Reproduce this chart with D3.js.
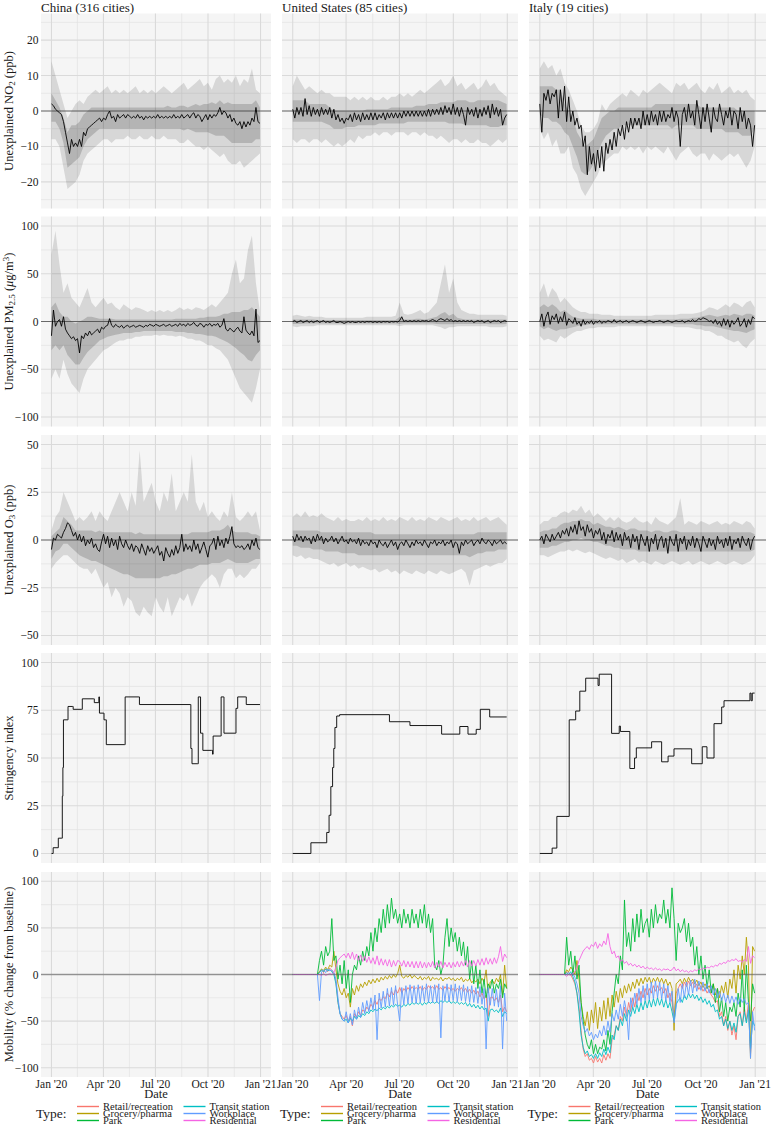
<!DOCTYPE html>
<html><head><meta charset="utf-8">
<script src="https://cdn.jsdelivr.net/npm/d3@7"></script>
<style>
body{margin:0;background:#fff}
text{font-family:"Liberation Serif","DejaVu Serif",serif;fill:#1a1a1a}
</style>
</head><body>
<script>
// ---------------- DATA ----------------
const columnTitles = ["China (316 cities)", "United States (85 cities)", "Italy (19 cities)"];
const xTickLabels = ["Jan '20", "Apr '20", "Jul '20", "Oct '20", "Jan '21"];
const mobilityTypes = ["Retail/recreation", "Grocery/pharma", "Park", "Transit station", "Workplace", "Residential"];
const mobilityColors = ["#F8766D", "#B79F00", "#00BA38", "#00BFC4", "#619CFF", "#F564E3"];

// NO2 — median (half-weekly) and ribbons (weekly)
const chinaNO2Med = [2,1.5,0.5,0,-0.5,-1,-3,-6,-9,-12,-8,-10,-9,-10,-8,-10,-6,-7,-5,-4.5,-4,-3.5,-3,-2.5,-2,-3,-2,-2.5,-1,0,-2,-1.5,-3,-1,-2,-1.5,-1,-2,-1,-1.5,-2,-1.5,-2,-1,-2,-1.5,-2.5,-1.5,-2,-1.5,-2,-1.5,-2,-1,-2,-1.5,-2,-1.5,-2,-1.5,-2,-1,-2,-1.5,-2,-1,-2,-1.5,-1,-2,-1,-0.5,-2,-1,-1.5,-3,-2,-1,-2.5,-1,-2,-1,-1.5,-0.5,1,-1,0,-0.5,-2,-1,-3,-2,-3.5,-4,-3,-5,-3,-4.5,-3,-4,-2,-3,1,-3,-3.5];
const chinaNO2OuterHi = [14,10,6,2,-2,0,2,3,2,4,5,6,5,6,7,5,6,5,6,5,6,7,5,6,5,6,5,6,7,6,5,6,7,8,6,7,8,9,7,8,6,9,10,8,9,8,10,7,9,8,12,6,5];
const chinaNO2OuterLo = [-8,-8,-10,-16,-22,-21,-20,-18,-14,-12,-11,-10,-9,-8,-8,-9,-8,-8,-8,-7,-8,-8,-7,-8,-8,-7,-8,-8,-7,-8,-8,-8,-9,-9,-8,-9,-10,-10,-11,-10,-11,-12,-13,-12,-14,-15,-15,-14,-16,-15,-14,-13,-12];
const chinaNO2InnerHi = [5,3,1,-2,-6,-4,-4,-3,-1,0,1,1,1,1,1,1,1,1,1,1,1,1,1,1,1,1,1,1,1,1.5,1,1,1.5,1.5,1,1.5,2,1.5,2,2,2.5,2,3,2,2.5,2,2,2,2,2,2,3,1];
const chinaNO2InnerLo = [-3,-3,-5,-9,-16,-15,-14,-13,-10,-8,-7,-6,-5,-5,-5,-5,-5,-5,-5,-5,-5,-5,-5,-5,-5,-5,-5,-5,-5,-5,-5,-5,-5,-5.5,-5,-5.5,-6,-6,-6,-6,-6.5,-7,-7,-7,-8,-9,-9,-9,-9,-9,-9,-8,-8];

const usNO2Med = [0.5,-2,1,-1,1,-1.5,3.5,-1,1.5,-1.5,1,-1,0.5,-1.5,1,-1,0.5,-1,1,-2,0.5,-2.5,-1,-3,-2,-3.5,-2,-2.5,-1,-3,-0.5,-2.5,-1,-3,-0.5,-2.5,-1,-2.5,-0.5,-2.5,-0.5,-2.5,-1,-2,-0.5,-2.5,-0.5,-2,-0.5,-2,-0.5,-2,-0.5,-2,0,-1.5,0,-1.5,0,-1.5,0,-1.5,0,-1.5,0,-1.5,0.5,-1.5,0.5,-1,0.5,-1,1,-1,1.5,-0.5,1,-1,2,-1,1,-1.5,1,-1,-4,1,-1,0.5,-1.5,1,-2,0.5,-1.5,1,-1,1.5,-2,2,-1,1,-1.5,0.5,-4,-2,-1];
const usNO2OuterHi = [7,10,8,6,7,6,5,6,5,5,4,4,4,4,3,4,3,4,3,4,3,3,4,3,4,4,5,4,5,4,5,6,5,6,7,8,9,7,8,10,7,8,6,7,8,6,7,9,7,8,6,5,4];
const usNO2OuterLo = [-8,-9,-8,-8,-9,-8,-8,-9,-8,-9,-10,-9,-10,-9,-8,-9,-7,-8,-7,-7,-6,-7,-6,-6,-7,-6,-6,-6,-7,-6,-6,-7,-6,-7,-7,-8,-7,-8,-9,-8,-8,-9,-8,-9,-9,-8,-9,-9,-10,-9,-8,-9,-8];
const usNO2InnerHi = [3,3,3,3,2,2,2,2,2,1,0,0,0,0,0,0,0,0,0.5,0.5,0.5,0.5,0.5,0.5,1,1,1,1,1,1,1.5,1.5,1.5,2,2,2,2.5,2.5,2.5,2.5,3,3,3,2.5,2.5,3,3,3,3,3,3,2.5,2];
const usNO2InnerLo = [-3,-3,-3,-3,-3,-3,-3,-3,-3.5,-4,-5,-5,-5,-4.5,-4.5,-4.5,-4,-4,-4,-4,-4,-3.5,-3.5,-3.5,-3.5,-3.5,-3.5,-3.5,-3,-3,-3,-3,-3,-3,-3,-3,-3,-3,-3.5,-3.5,-3.5,-3.5,-4,-4,-4,-4,-4,-4,-4.5,-4.5,-4.5,-4,-4];

const italyNO2Med = [2,-6,5,3,6,2,5,4,6,-2,6,0,7,-3,4,-3,0,-4,-2,-5,-4,-10,-7,-18,-10,-15,-12,-17,-11,-16,-10,-17,-9,-12,-8,-11,-6,-10,-5,-7,-4,-8,-3,-6,-2,-5,-2,-4,-2,-5,0,-4,-1,-4,0,-3,-1,-4,0,-3,0,-3,-1,-2,1,-3,0,-2,-10,-1,1,-3,2,-2,0,-4,3,-1,-5,1,-3,2,-2,-6,1,-2,-3,2,-1,-4,0,-2,1,-4,0,-1,-5,1,-3,0,-5,-2,-4,-10,-4];
const italyNO2OuterHi = [12,14,12,13,10,12,8,6,3,0,-4,-6,-6,-5,-3,2,0,2,3,4,5,4,6,5,4,6,5,6,7,8,7,6,5,8,7,8,6,7,8,6,5,7,6,8,5,6,7,5,6,5,6,4,3];
const italyNO2OuterLo = [-5,-8,-6,-10,-8,-12,-12,-10,-16,-18,-22,-24,-22,-20,-18,-15,-14,-13,-12,-12,-10,-11,-10,-11,-10,-12,-10,-11,-10,-11,-12,-10,-12,-14,-12,-11,-10,-12,-13,-12,-12,-14,-12,-13,-14,-13,-12,-13,-12,-14,-16,-14,-10];
const italyNO2InnerHi = [7,7,7,7,6,6,2,0,-2,-6,-8,-10,-9,-8,-5,-2,-1,0,0,1,1,1,1,1,1,1,1,1,2,2,2,2,2,2,2,2,2,2,2,1,1,1,1,1,1,1,1,1,0,0,0,0,0];
const italyNO2InnerLo = [-1,-2,-2,-3,-3,-4,-6,-7,-10,-13,-17,-18,-17,-15,-12,-9,-7,-6,-5,-5,-4,-4,-4,-4,-4,-4,-4,-4,-4,-4,-4,-4,-5,-4,-4,-4,-4,-4,-5,-5,-5,-5,-5,-5,-5,-6,-6,-6,-6,-7,-7,-7,-5];

// PM2.5
const chinaPMMed = [-15,12,-5,0,2,-5,5,-8,-12,-15,-18,-16,-20,-18,-33,-15,-18,-12,-15,-10,-14,-12,-10,-8,-12,-6,-8,-5,-4,3,-4,-6,-3,-5,-6,-4,-7,-5,-4,-6,-5,-4,-6,-5,-4,-5,-6,-4,-5,-3,-4,-5,-3,-4,-5,-4,-3,-5,-4,-3,-5,-4,-3,-5,-2,-4,-3,-5,-2,-4,-3,-1,-4,-5,-2,-3,-6,-3,-4,-2,-5,-3,-4,-2,-6,-4,3,-8,-10,-7,-9,-11,-8,-6,-10,-12,5,-9,-12,-14,-10,-15,13,-22,-20];
const chinaPMOuterHi = [70,95,60,30,40,25,20,15,25,35,20,15,20,25,18,20,15,12,18,15,12,15,14,12,10,12,10,12,10,12,10,12,15,12,14,12,15,14,12,15,18,15,20,25,30,50,65,40,45,75,90,40,10];
const chinaPMOuterLo = [-60,-50,-60,-40,-55,-65,-70,-75,-60,-50,-45,-40,-35,-30,-28,-25,-22,-20,-20,-18,-18,-16,-16,-15,-15,-15,-14,-15,-14,-15,-15,-16,-15,-16,-18,-18,-20,-20,-22,-25,-25,-28,-30,-35,-40,-50,-60,-70,-75,-80,-85,-70,-50];
const chinaPMInnerHi = [15,20,10,5,5,0,-2,0,2,5,5,4,3,3,3,3,2,2,2,2,2,2,2,2,2,2,2,2,2,2,2,3,3,3,3,3,3,4,4,5,5,5,6,8,8,10,10,10,12,12,15,10,5];
const chinaPMInnerLo = [-30,-25,-30,-25,-35,-40,-45,-45,-38,-32,-28,-24,-20,-18,-16,-15,-14,-13,-12,-12,-12,-11,-11,-10,-10,-10,-10,-10,-10,-10,-10,-11,-11,-11,-12,-12,-13,-13,-14,-15,-15,-16,-18,-20,-22,-25,-28,-32,-35,-40,-42,-35,-30];

const usPMMed = [0,1,-1,0,1,-1,0,1,-1,0.5,-1,0,1,-1,0,1,-1,0,-1,0,1,-1,-1,0,-1,-2,-1,0,-1,0,-1,-1,0,-1,0,-1,0,-0.5,0,-1,0,-1,0,-1,0,-0.5,0,-1,0,-0.5,0,-0.5,1,5,0,1,0,1,0,1,0,1,0,1,0.5,1,0,1,2,1,0,2,3,2,1,3,1,2,0,1,0,1,0,1,0,1,0,1,-1,0,1,0,1,-1,0,1,-1,0,1,0,1,-1,0,1,0];
const usPMOuterHi = [6,7,6,5,6,5,5,5,4,4,4,4,4,4,4,4,4,4,5,5,5,5,5,5,5,6,20,8,7,8,10,12,8,10,15,20,40,60,30,45,20,12,10,8,8,7,7,7,7,7,7,7,6];
const usPMOuterLo = [-5,-6,-5,-5,-5,-5,-4,-4,-4,-4,-4,-4,-4,-4,-4,-4,-4,-4,-4,-4,-4,-4,-4,-4,-4,-4,-5,-4,-4,-4,-4,-4,-4,-4,-4,-5,-6,-8,-6,-6,-5,-5,-5,-5,-5,-5,-5,-5,-6,-6,-6,-6,-5];
const usPMInnerHi = [2,2,2,2,2,2,1.5,1.5,1.5,1.5,1.5,1.5,1.5,1.5,1.5,1.5,1.5,1.5,1.5,1.5,1.5,1.5,1.5,1.5,1.5,1.5,5,2,2,2,3,3,2,3,4,5,8,10,6,8,4,3,2,2,2,2,2,2,2,2,2,2,2];
const usPMInnerLo = [-2.5,-2.5,-2.5,-2,-2,-2,-2,-2,-2,-2,-2,-2,-2,-2,-2,-2,-2,-2,-2,-2,-2,-2,-2,-2,-2,-2,-2.5,-2,-2,-2,-2,-2,-2,-2,-2,-2.5,-3,-3,-3,-3,-2.5,-2.5,-2.5,-2.5,-2.5,-2.5,-2.5,-2.5,-3,-3,-3,-3,-2.5];

const italyPMMed = [0,8,-5,5,10,-3,6,2,8,-2,5,0,10,-4,3,1,-2,4,-3,0,-5,2,-3,0,-2,1,-3,0,-1,1,-2,0,-1,1,0,-1,2,-1,0,1,-1,0,1,-1,0,1,0,-1,0,1,0,-1,0,1,0,-1,0,0,1,0,-1,0,1,0,-1,0,1,0,0,1,-1,0,1,0,2,0,1,3,2,4,3,2,0,1,-2,2,-3,0,-5,3,-4,2,-6,1,-3,0,4,-5,-2,3,-6,2,-3,5,3];
const italyPMOuterHi = [30,40,25,35,30,20,25,20,15,12,10,10,8,8,8,7,7,7,6,6,6,6,6,6,6,6,6,6,7,7,7,7,7,7,8,8,8,8,9,10,12,15,14,12,15,18,15,20,18,15,20,22,15];
const italyPMOuterLo = [-15,-20,-18,-20,-22,-15,-18,-15,-12,-10,-10,-8,-7,-7,-6,-6,-6,-6,-6,-5,-5,-5,-5,-5,-5,-5,-5,-5,-5,-5,-5,-5,-5,-6,-6,-6,-6,-7,-8,-8,-10,-10,-12,-15,-15,-18,-20,-22,-20,-25,-28,-22,-18];
const italyPMInnerHi = [15,18,15,18,15,10,12,8,5,4,3,3,3,3,2,2,2,2,2,2,2,2,2,2,2,2,2,2,2,2,2,2,2,2,3,3,3,4,4,5,6,7,6,5,6,7,6,8,7,6,8,8,6];
const italyPMInnerLo = [-5,-8,-6,-8,-10,-8,-8,-7,-6,-5,-4,-4,-3,-3,-3,-3,-3,-3,-3,-3,-3,-3,-3,-3,-3,-3,-3,-3,-3,-3,-3,-3,-3,-3,-3,-3,-3,-3,-4,-4,-5,-5,-5,-6,-7,-8,-9,-10,-10,-11,-12,-10,-8];

// O3
const chinaO3Med = [-5,1,0,3,2,1,4,6,9,8,5,2,4,0,3,-1,2,-3,0,-2,1,-4,-2,-5,-6,-1,3,-2,2,-4,1,-3,0,-5,2,-2,-4,0,-3,-5,-2,-6,-3,-4,-7,-2,-5,-8,-3,-6,-4,-7,-5,-3,-8,-6,-11,-4,-7,-9,-5,-8,-3,-7,-4,3,-6,-2,-5,-3,-6,0,-5,-2,-7,-4,-1,-5,-9,-3,-2,1,-5,2,-3,0,-4,1,-2,2,7,-2,-4,-3,-4,-3,-5,-4,-2,-5,0,-3,1,-4,-5];
const chinaO3OuterHi = [5,12,15,25,20,15,10,12,10,12,15,10,15,12,10,15,20,25,20,15,25,18,47,20,25,30,20,15,25,20,35,15,20,25,20,45,20,15,20,12,15,12,10,15,12,25,12,10,12,15,12,15,5];
const chinaO3OuterLo = [-15,-12,-10,-8,-8,-10,-12,-14,-15,-15,-18,-15,-20,-25,-22,-30,-25,-28,-35,-30,-32,-38,-40,-35,-38,-40,-30,-35,-38,-30,-40,-35,-30,-32,-28,-35,-30,-25,-22,-20,-18,-20,-25,-18,-15,-15,-20,-18,-20,-18,-15,-15,-12];
const chinaO3InnerHi = [2,4,6,12,10,8,5,5,5,5,5,4,5,4,4,4,4,4,4,4,4,3,4,3,3,3,3,3,3,3,3,3,3,3,3,4,4,4,4,4,5,5,5,6,8,5,4,4,4,4,3,3,2];
const chinaO3InnerLo = [-10,-6,-5,-2,-2,-4,-6,-8,-9,-10,-11,-11,-12,-13,-14,-15,-16,-17,-18,-18,-19,-20,-20,-20,-20,-20,-20,-20,-19,-19,-18,-18,-17,-16,-15,-15,-14,-13,-13,-13,-12,-12,-12,-11,-10,-11,-12,-12,-12,-12,-11,-10,-10];

const usO3Med = [2,-1,3,0,2,-1,2,0,1,-2,2,-1,3,0,2,-2,1,-1,0,2,-1,1,-2,0,2,-1,0,-2,1,-1,0,-2,1,-3,0,-2,-1,-3,0,-2,-1,-4,0,-2,-3,-1,-4,-2,0,-3,-1,-5,-2,-1,-3,0,-2,-4,-1,-3,0,-2,-1,-3,0,-2,-4,-1,-2,0,-3,-1,-2,0,-3,-1,-2,0,-4,-1,-2,-7,-1,-3,0,-2,-1,0,-3,-1,0,-2,1,-1,-2,0,-1,-3,0,-2,-1,0,-2,-1,-2];
const usO3OuterHi = [12,14,12,15,12,13,12,14,12,11,10,12,10,11,10,10,11,10,12,10,11,10,12,10,11,10,12,11,10,12,10,11,10,12,11,10,12,11,10,11,12,10,11,10,12,10,11,12,10,11,12,10,8];
const usO3OuterLo = [-8,-9,-8,-10,-9,-10,-10,-11,-12,-13,-12,-14,-13,-12,-14,-13,-15,-14,-15,-16,-15,-17,-16,-15,-17,-16,-18,-16,-17,-18,-16,-17,-18,-16,-17,-18,-16,-17,-18,-17,-16,-15,-17,-24,-16,-15,-14,-13,-14,-13,-12,-12,-10];
const usO3InnerHi = [5,5,5,5,5,5,5,4,4,4,4,4,4,4,4,4,4,4,4,4,3,3,3,3,3,3,3,3,3,3,3,3,3,3,3,3,3,3,3,3,3,3,3,3,3,4,4,4,4,4,4,4,4];
const usO3InnerLo = [-3,-3,-4,-4,-4,-5,-5,-5,-6,-6,-6,-6,-7,-7,-7,-7,-8,-8,-8,-8,-8,-8,-8,-8,-8,-8,-8,-8,-8,-8,-8,-8,-8,-8,-8,-8,-8,-8,-8,-8,-8,-8,-8,-9,-8,-7,-7,-6,-6,-6,-5,-5,-5];

const italyO3Med = [0,2,-2,3,1,-1,3,0,2,4,1,5,3,6,2,7,4,8,3,10,5,7,2,8,4,6,1,5,3,6,0,4,-2,3,1,5,-1,4,0,3,-3,4,0,2,-4,3,-1,2,-5,3,0,-3,2,-6,1,-2,3,-5,0,2,-4,1,-7,2,-1,-3,3,-6,1,-2,2,-5,0,-3,2,-4,1,-2,-6,2,-1,-4,1,-3,0,-5,2,-2,0,-4,1,-3,2,-5,0,-2,1,-4,2,-1,-3,1,-5,0,2];
const italyO3OuterHi = [8,10,10,12,12,14,15,14,16,15,18,14,16,12,14,12,10,12,10,12,10,9,10,12,10,9,10,8,12,10,9,8,10,12,22,8,10,9,8,10,9,8,9,10,8,9,8,10,9,8,10,9,6];
const italyO3OuterLo = [-8,-8,-9,-8,-7,-6,-6,-5,-6,-5,-6,-7,-6,-7,-8,-9,-10,-9,-10,-11,-10,-12,-11,-10,-12,-11,-12,-13,-11,-12,-13,-12,-11,-12,-13,-12,-11,-13,-12,-11,-12,-13,-12,-11,-12,-13,-12,-11,-12,-13,-12,-11,-8];
const italyO3InnerHi = [4,5,5,6,6,8,9,9,10,10,11,10,10,8,9,8,7,7,6,7,6,5,6,6,5,5,5,4,5,5,4,4,5,5,4,4,4,4,4,4,4,4,4,4,4,4,4,4,4,4,4,4,3];
const italyO3InnerLo = [-4,-4,-4,-3,-3,-2,-1,-1,0,0,1,0,0,-1,-1,-2,-3,-3,-4,-4,-5,-5,-5,-5,-6,-6,-6,-6,-6,-6,-6,-6,-6,-6,-6,-6,-6,-6,-6,-6,-6,-6,-6,-6,-6,-6,-6,-6,-6,-6,-6,-6,-5];

// Stringency index (change points: day of 2020, value)
const chinaStrDays = [0,3,12,18,19,20,21,28,29,37,38,53,54,74,75,82,83,84,91,92,95,96,128,129,153,154,243,244,246,256,257,260,261,264,265,280,282,283,296,297,301,302,322,323,325,326,340,341,365];
const chinaStrVals = [0,3,8,8,30,45,70,70,77,77,75.5,75.5,81,81,79,79,82,73.5,73.5,70,70,57,57,82,82,78,78,55,47,47,82,82,63,63,54,54,52,61.5,61.5,82,82,63,63,76,76,82,82,78,78];
const usStrDays = [0,31,58,62,65,68,70,72,75,80,165,200,254,285,299,313,320,336,365];
const usStrVals = [0,5.6,11,20,35,45,55,66,72,72.7,69,67,62.5,66.5,62.5,65,75.5,71.5,71.5];
const italyStrDays = [0,21,29,50,61,68,78,99,101,122,135,137,153,161,164,190,207,218,228,258,276,284,296,309,313,357,359,361,365];
const italyStrVals = [0,2.8,19.4,70,74.6,85,91.8,88,93.9,62.9,66.7,63.9,44.5,50,55.3,58.5,48,51,54.8,47,55.9,50,68,76.7,80,84,80,84,84];

// Mobility (% change from baseline), half-weekly from Jan 1
const usRetail = [0,0,0,0,0,0,0,0,0,0,0,0,0,3,5,2,6,3,7,4,2,-8,-30,-42,-45,-48,-44,-50,-45,-55,-42,-46,-40,-44,-38,-40,-35,-38,-32,-35,-28,-32,-26,-28,-24,-26,-20,-24,-18,-22,-16,-20,-14,-20,-15,-18,-14,-17,-13,-16,-14,-16,-13,-17,-14,-16,-12,-15,-13,-16,-12,-16,-14,-17,-13,-16,-14,-17,-15,-18,-15,-17,-14,-18,-15,-19,-16,-20,-17,-21,-18,-24,-20,-26,-22,-45,-25,-24,-28,-25,-30,-22,-40,-35,-40];
const usGrocery = [0,0,0,0,0,0,0,0,0,0,0,0,0,3,6,4,8,5,10,8,25,5,-10,-18,-22,-15,-25,-20,-35,-15,-22,-12,-18,-10,-14,-8,-12,-6,-10,-5,-9,-4,-8,-3,-6,-2,-5,-1,-4,0,-3,1,10,-2,-4,-1,-3,0,-4,-1,-3,-5,-2,-6,-3,-5,-2,-7,-3,-5,-4,-6,-3,-7,-4,-5,-3,-6,-4,-7,-4,-6,-3,-8,-5,-7,-4,-9,-6,-8,-5,-10,-4,-8,5,-20,-8,-6,-10,-4,-8,0,-22,10,-15];
const usPark = [0,0,0,0,0,0,0,0,0,0,0,0,0,15,25,10,30,20,25,60,15,20,-5,10,-10,15,-15,5,-30,0,10,5,20,10,25,15,30,20,45,25,50,35,60,45,70,50,75,55,82,60,70,55,65,50,70,55,65,50,70,55,65,50,70,55,75,50,65,45,60,10,5,15,0,10,40,60,30,50,35,45,25,40,20,35,10,30,-5,15,-10,10,-15,5,-20,-5,-25,-10,-15,-5,-20,-10,-15,-5,-25,-10,-15];
const usTransit = [0,0,0,0,0,0,0,0,0,0,0,0,0,2,5,3,6,4,5,3,0,-10,-30,-42,-48,-50,-48,-52,-47,-50,-45,-48,-44,-46,-42,-44,-40,-42,-38,-40,-37,-39,-36,-38,-35,-37,-34,-36,-33,-35,-32,-34,-33,-35,-32,-34,-31,-33,-30,-32,-30,-32,-30,-33,-30,-32,-29,-31,-29,-31,-29,-31,-28,-30,-28,-30,-28,-31,-29,-31,-29,-32,-30,-32,-30,-34,-31,-35,-32,-36,-33,-37,-34,-38,-36,-50,-38,-37,-40,-38,-41,-36,-45,-40,-42];
const usWorkplace = [0,0,0,0,0,0,0,0,0,0,0,0,0,-28,3,5,2,6,4,5,2,-5,-25,-42,-48,-50,-40,-52,-42,-54,-38,-48,-35,-46,-30,-42,-28,-40,-25,-38,-22,-70,-20,-36,-18,-35,-15,-34,-14,-33,-12,-33,-50,-14,-32,-12,-31,-11,-30,-12,-31,-11,-30,-12,-29,-10,-30,-12,-30,-11,-30,-10,-68,-12,-28,-10,-29,-11,-28,-10,-29,-12,-28,-11,-29,-13,-30,-12,-30,-14,-31,-13,-32,-15,-80,-14,-33,-15,-34,-16,-35,-12,-80,-20,-50];
const usResidential = [0,0,0,0,0,0,0,0,0,0,0,0,0,0,-1,1,-1,0,1,0,2,8,15,18,20,22,18,23,17,24,16,22,15,21,14,20,13,19,12,18,11,20,10,17,10,16,9,16,8,15,9,15,14,9,15,8,14,8,14,7,14,7,14,7,13,7,13,8,14,7,13,8,14,7,13,8,13,7,13,8,14,8,14,9,15,8,15,9,15,9,16,10,17,10,18,11,17,11,18,12,19,30,14,22,18];

const italyRetail = [0,0,0,0,0,0,0,0,0,0,0,0,0,3,2,0,-5,-10,-20,-35,-60,-80,-88,-85,-92,-90,-95,-88,-94,-90,-95,-86,-92,-85,-90,-70,-65,-55,-60,-45,-50,-35,-45,-30,-40,-25,-35,-20,-28,-18,-25,-15,-22,-15,-20,-12,-18,-12,-17,-14,-20,-15,-25,-20,-30,-45,-20,-15,-10,-15,-8,-13,-7,-12,-8,-14,-10,-16,-12,-18,-14,-20,-16,-22,-25,-30,-28,-45,-40,-55,-45,-60,-50,-65,-55,-70,-45,-40,-55,-35,-50,-30,-85,-40,-35];
const italyGrocery = [0,0,0,0,0,0,0,0,0,0,0,0,0,5,3,8,5,0,15,-5,-30,-45,-55,-40,-60,-38,-52,-30,-58,-35,-50,-28,-48,-25,-45,-22,-35,-18,-30,-15,-25,-12,-20,-10,-18,-8,-15,-5,-12,-4,-10,-3,-8,-3,-10,-4,-8,-3,-9,-4,-10,-5,-12,-8,-15,-60,-10,-8,-5,-10,-4,-9,-3,-8,-5,-10,-6,-12,-8,-14,-10,-15,-12,-18,-10,-22,-15,-25,-12,-20,-8,-25,-5,-15,5,-20,10,-5,20,0,40,10,-90,30,25];
const italyPark = [0,0,0,0,0,0,0,0,0,0,0,0,0,40,10,25,0,20,-5,10,-30,-50,-65,-75,-80,-70,-85,-75,-85,-78,-80,-70,-82,-60,-75,-40,-20,0,-10,20,5,80,30,45,25,60,35,65,40,70,45,55,60,40,70,50,75,55,65,60,80,55,70,50,93,60,15,55,45,50,60,35,55,30,40,10,30,0,20,-5,10,-15,5,-20,-10,-30,-15,-40,-25,-45,-30,-50,-35,-40,-30,-45,-20,-35,5,-40,10,-30,-50,-10,-20];
const italyTransit = [0,0,0,0,0,0,0,0,0,0,0,0,0,2,0,3,-2,-8,-20,-40,-65,-78,-85,-82,-88,-86,-90,-85,-90,-84,-88,-80,-86,-78,-84,-65,-70,-55,-60,-48,-55,-42,-50,-38,-45,-35,-42,-32,-40,-30,-38,-28,-36,-27,-35,-26,-34,-25,-33,-26,-35,-27,-36,-30,-40,-50,-32,-28,-25,-30,-22,-27,-20,-25,-21,-26,-22,-28,-24,-30,-26,-32,-28,-35,-32,-40,-38,-48,-45,-55,-48,-58,-50,-60,-52,-62,-45,-42,-55,-40,-52,-38,-80,-50,-55];
const italyWorkplace = [0,0,0,0,0,0,0,0,0,0,0,0,0,0,2,0,1,-3,-10,-20,-45,-55,-62,-58,-66,-62,-70,-64,-68,-60,-66,-55,-65,-50,-62,-42,-50,-38,-48,-32,-45,-28,-40,-70,-25,-35,-20,-32,-15,-30,-12,-28,-10,-27,-8,-26,-7,-25,-8,-26,-10,-28,-12,-30,-18,-52,-35,-15,-30,-10,-25,-8,-22,-6,-20,-5,-18,-7,-17,-8,-18,-10,-20,-12,-22,-15,-25,-18,-28,-20,-30,-22,-31,-23,-30,-24,-32,-25,-30,-26,-32,-30,-90,-40,-60];
const italyResidential = [0,0,0,0,0,0,0,0,0,0,0,0,0,-2,0,-1,1,3,8,15,20,25,28,30,27,32,30,35,28,33,30,36,32,44,30,22,25,18,20,14,16,12,14,10,12,9,11,8,10,7,9,6,8,6,7,5,7,5,6,4,6,5,6,4,5,8,4,6,3,5,3,4,2,4,3,5,4,6,5,7,6,8,7,9,8,10,9,12,11,13,12,15,14,16,15,17,14,15,13,16,14,30,12,20,18];

// ---------------- CHART ----------------
const W = 771, H = 1125, DAY = 864e5;
const T0 = Date.UTC(2020, 0, 1), T1 = Date.UTC(2021, 0, 1);
const PAD = (T1 - T0) * 0.05;
const SPAN_DAYS = 365;
const cols = [[41, 271], [282, 518], [529, 766]];
const rowsY = [[13.5, 208.5], [216.5, 426.5], [435, 645], [653, 863], [872, 1077]];

const rowSpec = [
  {dom: [-27.5, 27.5], ticks: [-20, -10, 0, 10, 20], minor: [-25, -15, -5, 5, 15, 25],
   title: [["Unexplained NO"], ["2", "sub"], [" (ppb)"]]},
  {dom: [-110, 110], ticks: [-100, -50, 0, 50, 100], minor: [-75, -25, 25, 75],
   title: [["Unexplained PM"], ["2.5", "sub"], [" ("], ["μ", "it"], ["g/m"], ["3", "sup"], [")"]]},
  {dom: [-55, 55], ticks: [-50, -25, 0, 25, 50], minor: [-37.5, -12.5, 12.5, 37.5],
   title: [["Unexplained O"], ["3", "sub"], [" (ppb)"]]},
  {dom: [-5, 105], ticks: [0, 25, 50, 75, 100], minor: [12.5, 37.5, 62.5, 87.5],
   title: [["Stringency index"]]},
  {dom: [-110, 110], ticks: [-100, -50, 0, 50, 100], minor: [-75, -25, 25, 75],
   title: [["Mobility (% change from baseline)"]]}
];

const pollution = [
  [ {med: chinaNO2Med, ohi: chinaNO2OuterHi, olo: chinaNO2OuterLo, ihi: chinaNO2InnerHi, ilo: chinaNO2InnerLo},
    {med: usNO2Med, ohi: usNO2OuterHi, olo: usNO2OuterLo, ihi: usNO2InnerHi, ilo: usNO2InnerLo},
    {med: italyNO2Med, ohi: italyNO2OuterHi, olo: italyNO2OuterLo, ihi: italyNO2InnerHi, ilo: italyNO2InnerLo} ],
  [ {med: chinaPMMed, ohi: chinaPMOuterHi, olo: chinaPMOuterLo, ihi: chinaPMInnerHi, ilo: chinaPMInnerLo},
    {med: usPMMed, ohi: usPMOuterHi, olo: usPMOuterLo, ihi: usPMInnerHi, ilo: usPMInnerLo},
    {med: italyPMMed, ohi: italyPMOuterHi, olo: italyPMOuterLo, ihi: italyPMInnerHi, ilo: italyPMInnerLo} ],
  [ {med: chinaO3Med, ohi: chinaO3OuterHi, olo: chinaO3OuterLo, ihi: chinaO3InnerHi, ilo: chinaO3InnerLo},
    {med: usO3Med, ohi: usO3OuterHi, olo: usO3OuterLo, ihi: usO3InnerHi, ilo: usO3InnerLo},
    {med: italyO3Med, ohi: italyO3OuterHi, olo: italyO3OuterLo, ihi: italyO3InnerHi, ilo: italyO3InnerLo} ]
];
const stringency = [[chinaStrDays, chinaStrVals], [usStrDays, usStrVals], [italyStrDays, italyStrVals]];
const mobility = [null,
  [usRetail, usGrocery, usPark, usTransit, usWorkplace, usResidential],
  [italyRetail, italyGrocery, italyPark, italyTransit, italyWorkplace, italyResidential]];

const dayDate = d => new Date(T0 + d * DAY);
const seriesDates = arr => arr.map((v, i) => ({t: dayDate(i * SPAN_DAYS / (arr.length - 1)), v}));

const majorDates = [Date.UTC(2020,0,1), Date.UTC(2020,3,1), Date.UTC(2020,6,1), Date.UTC(2020,9,1), Date.UTC(2021,0,1)];
const minorDates = d3.range(majorDates.length - 1).map(i => (majorDates[i] + majorDates[i + 1]) / 2);

const svg = d3.select("body").append("svg").attr("width", W).attr("height", H);
const defs = svg.append("defs");

rowSpec.forEach((rs, r) => {
  const [y0, y1] = rowsY[r];
  const y = d3.scaleLinear().domain(rs.dom).range([y1, y0]);
  cols.forEach(([x0, x1], c) => {
    const x = d3.scaleUtc().domain([new Date(T0 - PAD), new Date(T1 + PAD)]).range([x0, x1]);
    const g = svg.append("g");
    g.append("rect").attr("x", x0).attr("y", y0).attr("width", x1 - x0).attr("height", y1 - y0).attr("fill", "#f5f5f5");
    g.selectAll(".hmin").data(rs.minor).join("line").attr("x1", x0).attr("x2", x1)
      .attr("y1", d => y(d)).attr("y2", d => y(d)).attr("stroke", "#e3e3e3").attr("stroke-width", 0.7);
    g.selectAll(".vmin").data(minorDates).join("line").attr("y1", y0).attr("y2", y1)
      .attr("x1", d => x(new Date(d))).attr("x2", d => x(new Date(d))).attr("stroke", "#e3e3e3").attr("stroke-width", 0.7);
    g.selectAll(".hmaj").data(rs.ticks).join("line").attr("x1", x0).attr("x2", x1)
      .attr("y1", d => y(d)).attr("y2", d => y(d)).attr("stroke", "#dadada").attr("stroke-width", 1.1);
    g.selectAll(".vmaj").data(majorDates).join("line").attr("y1", y0).attr("y2", y1)
      .attr("x1", d => x(new Date(d))).attr("x2", d => x(new Date(d))).attr("stroke", "#dadada").attr("stroke-width", 1.1);

    const cid = `clip${r}_${c}`;
    defs.append("clipPath").attr("id", cid).append("rect")
      .attr("x", x0).attr("y", y0).attr("width", x1 - x0).attr("height", y1 - y0);
    const pg = g.append("g").attr("clip-path", `url(#${cid})`);

    if (r < 3) {
      const p = pollution[r][c];
      const outer = p.ohi.map((v, i) => ({t: dayDate(i * SPAN_DAYS / (p.ohi.length - 1)), hi: v, lo: p.olo[i]}));
      const inner = p.ihi.map((v, i) => ({t: dayDate(i * SPAN_DAYS / (p.ihi.length - 1)), hi: v, lo: p.ilo[i]}));
      const area = d3.area().x(d => x(d.t)).y0(d => y(d.lo)).y1(d => y(d.hi));
      pg.append("path").attr("d", area(outer)).attr("fill", "#000").attr("fill-opacity", 0.12);
      pg.append("path").attr("d", area(inner)).attr("fill", "#000").attr("fill-opacity", 0.16);
      pg.append("line").attr("x1", x0).attr("x2", x1).attr("y1", y(0)).attr("y2", y(0))
        .attr("stroke", "#444").attr("stroke-width", 0.9).attr("stroke-opacity", 0.85);
      const line = d3.line().x(d => x(d.t)).y(d => y(d.v));
      pg.append("path").attr("d", line(seriesDates(p.med))).attr("fill", "none")
        .attr("stroke", "#000").attr("stroke-width", 0.9).attr("stroke-linejoin", "round");
    } else if (r === 3) {
      const [days, vals] = stringency[c];
      const pts = days.map((d, i) => ({t: dayDate(d), v: vals[i]}));
      const line = d3.line().x(d => x(d.t)).y(d => y(d.v)).curve(d3.curveStepAfter);
      pg.append("path").attr("d", line(pts)).attr("fill", "none").attr("stroke", "#000").attr("stroke-width", 0.9);
    } else {
      const m = mobility[c];
      if (m) {
        const line = d3.line().x(d => x(d.t)).y(d => y(d.v));
        m.forEach((arr, k) => {
          pg.append("path").attr("d", line(seriesDates(arr))).attr("fill", "none")
            .attr("stroke", mobilityColors[k]).attr("stroke-width", 0.9).attr("stroke-linejoin", "round");
        });
      }
      pg.append("line").attr("x1", x0).attr("x2", x1).attr("y1", y(0)).attr("y2", y(0))
        .attr("stroke", "#555").attr("stroke-width", 1.6).attr("stroke-opacity", 0.55);
    }

    if (c === 0) {
      g.selectAll(".yt").data(rs.ticks).join("text").attr("x", x0 - 2.5).attr("y", d => y(d) + 4)
        .attr("text-anchor", "end").attr("font-size", 11.5).text(d => String(d).replace("-", "\u2212"));
      const cy = (y0 + y1) / 2;
      const t = g.append("text").attr("transform", `translate(12.5,${cy}) rotate(-90)`)
        .attr("text-anchor", "middle").attr("font-size", 12.5);
      rs.title.forEach(([s, kind]) => {
        const ts = t.append("tspan").text(s);
        if (kind === "sub") { ts.attr("font-size", 9).attr("baseline-shift", "-22%"); }
        if (kind === "sup") { ts.attr("font-size", 9).attr("baseline-shift", "45%"); }
        if (kind === "it") { ts.attr("font-style", "italic"); }
      });
    }
    if (r === 0) {
      svg.append("text").attr("x", x0).attr("y", 11.5).attr("font-size", 13).text(columnTitles[c]);
    }
    if (r === 4) {
      g.selectAll(".xt").data(majorDates).join("text").attr("x", d => x(new Date(d))).attr("y", y1 + 10.5)
        .attr("text-anchor", "middle").attr("font-size", 11.5).text((d, i) => xTickLabels[i]);
      g.append("text").attr("x", (x0 + x1) / 2).attr("y", y1 + 20.5).attr("text-anchor", "middle")
        .attr("font-size", 12.5).text("Date");
      const cx = (x0 + x1) / 2;
      const lg = g.append("g");
      lg.append("text").attr("x", cx - 120).attr("y", 1118).attr("font-size", 13.5).text("Type:");
      mobilityTypes.forEach((name, k) => {
        const colOff = k < 3 ? 0 : 106.5;
        const rowI = k % 3;
        const ky = 1106.5 + rowI * 7;
        lg.append("line").attr("x1", cx - 79 + colOff).attr("x2", cx - 57 + colOff)
          .attr("y1", ky).attr("y2", ky).attr("stroke", mobilityColors[k]).attr("stroke-width", 1.4);
        lg.append("text").attr("x", cx - 53 + colOff).attr("y", ky + 3.5).attr("font-size", 10.5).text(name);
      });
    }
  });
});
</script>
</body></html>
